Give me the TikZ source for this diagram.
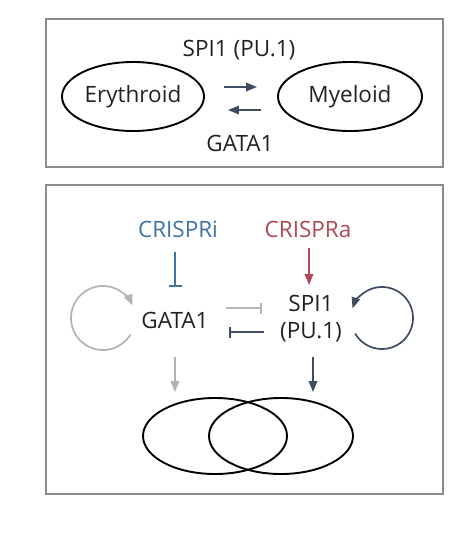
\documentclass[tikz,border=0pt]{standalone}
\usepackage{fontspec}
\setmainfont{Open Sans}
\usetikzlibrary{shapes.geometric,arrows.meta}
\definecolor{boxgray}{HTML}{8C8C8C}
\definecolor{slate}{HTML}{3E4D63}
\definecolor{lightgray}{HTML}{B3B3B3}
\definecolor{iblue}{HTML}{3F74A6}
\definecolor{ared}{HTML}{B04A55}
\definecolor{ink}{HTML}{222222}
\begin{document}
\begin{tikzpicture}[x=1pt,y=-1pt,
	lbl/.style={inner sep=0pt,text=ink,font=\fontsize{22.5}{27}\selectfont,align=center},
	cell/.style={draw,ellipse,line width=1.9pt,inner sep=0pt,text=ink,font=\fontsize{22.5}{27}\selectfont},
	act/.style={line width=1.7pt,-{Triangle[length=11pt,width=8.5pt]}},
	inh/.style={line width=1.7pt,-{Bar[width=11pt]}}]
	\useasboundingbox (0,0) rectangle (466,535);
	\draw[color=boxgray,line width=1.5pt] (46,19) rectangle (443,167);
	\draw[color=boxgray,line width=1.5pt] (46,185) rectangle (443,494);
	\node[cell,minimum width=142,minimum height=69] (ery) at (133,96.5) {Erythroid};
	\node[cell,minimum width=144,minimum height=69] (mye) at (350,96.5) {Myeloid};
	\node[lbl] (spitop) at (239,50) {SPI1 (PU.1)};
	\node[lbl] (gatatop) at (240,143) {GATA1};
	\draw[act,color=slate] ([shift={(19pt,9.5pt)}]ery.east) -- ([shift={(-20pt,9.5pt)}]mye.west);
	\draw[act,color=slate] ([shift={(-16pt,-13.5pt)}]mye.west) -- ([shift={(23pt,-13.5pt)}]ery.east);
	\node[lbl,text=iblue] (crispri) at (178,229) {CRISPRi};
	\node[lbl,text=ared] (crispra) at (308,229) {CRISPRa};
	\node[lbl] (gata) at (175,320) {GATA1};
	\node[lbl] (spi) at (311,318.5) {SPI1\\(PU.1)};
	\node[cell,minimum width=144,minimum height=76] (venl) at (215,436) {};
	\node[cell,minimum width=144,minimum height=76] (venr) at (281,436) {};
	\draw[inh,color=iblue,-{Bar[width=13pt]}] ([yshift=-23pt]crispri.center -| gata.center) -- ([yshift=33pt]gata.center);
	\draw[act,color=ared] ([shift={(1pt,-19pt)}]crispra.center) -- ([shift={(-2pt,33.5pt)}]spi.center);
	\draw[inh,color=lightgray] ([shift={(51pt,12pt)}]gata.center) -- ([shift={(-49pt,10.5pt)}]spi.center);
	\draw[inh,color=slate] ([shift={(-47pt,-13.5pt)}]spi.center) -- ([shift={(54pt,-12pt)}]gata.center);
	\draw[act,color=lightgray] ([yshift=-37pt]gata.center) -- ([yshift=5pt]gata.center |- venl.north);
	\draw[act,color=slate] ([shift={(2pt,-38.5pt)}]spi.center) -- ([shift={(2pt,5pt)}]spi.center |- venr.north);
	\coordinate (gloop) at (103,318);
	\coordinate (sloop) at (382,318);
	\draw[act,color=lightgray] (gloop) ++(31:32) arc[start angle=31,end angle=337,radius=32];
	\draw[act,color=slate] (sloop) ++(150:31) arc[start angle=150,end angle=-162,radius=31];
\end{tikzpicture}
\end{document}
